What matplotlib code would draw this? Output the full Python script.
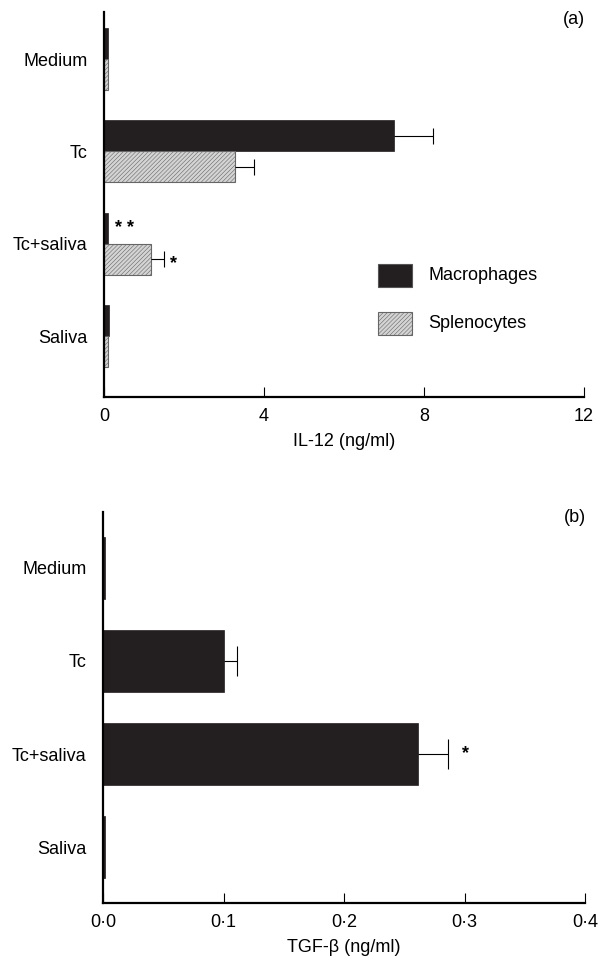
import matplotlib
matplotlib.use('Agg')
import matplotlib.pyplot as plt
import numpy as np

plt.rcParams['font.family'] = ['Liberation Sans', 'DejaVu Sans']
plt.rcParams['hatch.linewidth'] = 0.4

# ── data ──
categories = ['Medium', 'Tc', 'Tc+saliva', 'Saliva']
il12_mac = [0.1, 7.25, 0.1, 0.12]
il12_mac_err = [0, 0.97, 0, 0]
il12_spl = [0.1, 3.27, 1.17, 0.1]
il12_spl_err = [0, 0.48, 0.33, 0]
tgf = [0.002, 0.1, 0.261, 0.002]
tgf_err = [0, 0.011, 0.025, 0]
il12_ticks = [0, 4, 8, 12]
tgf_ticks = [0.0, 0.1, 0.2, 0.3, 0.4]

DARK = '#231f20'
LIGHT = '#d4d4d4'
FS = 13
W, H = 599, 966
fig = plt.figure(figsize=(W / 100, H / 100), dpi=100)
fig.patch.set_facecolor('white')


def style_axes(ax):
    for s in ('top', 'right'):
        ax.spines[s].set_visible(False)
    ax.spines['left'].set_linewidth(1.6)
    ax.spines['bottom'].set_linewidth(1.6)
    ax.tick_params(axis='y', length=0, labelsize=FS, pad=12)
    ax.tick_params(axis='x', direction='in', length=7, width=0.8,
                   labelsize=FS, pad=8)


def upper_err(ax, vals, errs, ys, cap):
    # one-sided error bar: whisker from bar end to the right, cap at the tip
    for v, e, y in zip(vals, errs, ys):
        if e > 0:
            ax.hlines(y, v, v + e, color='black', lw=0.8)
            ax.vlines(v + e, y - cap, y + cap, color='black', lw=0.8)


ypos = np.arange(len(categories))

# ── panel (a): IL-12 ──
ax1 = fig.add_axes([104 / W, 1 - 397 / H, 480 / W, 385 / H])
h = 0.335
ax1.barh(ypos - h / 2, il12_mac, height=h, color=DARK, edgecolor=DARK, lw=0.5)
ax1.barh(ypos + h / 2, il12_spl, height=h, color=LIGHT, edgecolor='#666666',
         hatch='////////', lw=0.8)
upper_err(ax1, il12_mac, il12_mac_err, ypos - h / 2, 0.085)
upper_err(ax1, il12_spl, il12_spl_err, ypos + h / 2, 0.085)
ax1.set_xlim(0, 12)
ax1.set_ylim(3.66, -0.51)
ax1.set_yticks(ypos)
ax1.set_yticklabels(categories)
ax1.set_xticks(il12_ticks)
ax1.set_xlabel('IL-12 (ng/ml)', fontsize=FS, labelpad=6)
style_axes(ax1)
ax1.text(0.52, 2 - h / 2, '* *', ha='center', va='center', fontsize=13, fontweight='bold')
ax1.text(1.75, 2 + h / 2 + 0.05, '*', ha='center', va='center', fontsize=13, fontweight='bold')
ax1.text(0.98, 0.98, '(a)', transform=ax1.transAxes, ha='center', va='center', fontsize=FS)

# legend drawn as boxes to match the figure
lx0, lx1 = 378 / W, 412 / W
fig.patches.append(plt.Rectangle((lx0, 1 - 287 / H), lx1 - lx0, 23 / H, transform=fig.transFigure,
                                 facecolor=DARK, edgecolor='#555555', lw=0.8))
fig.patches.append(plt.Rectangle((lx0, 1 - 335 / H), lx1 - lx0, 23 / H, transform=fig.transFigure,
                                 facecolor=LIGHT, edgecolor='#666666', hatch='////////', lw=0.8))
fig.text(428 / W, 1 - 275 / H, 'Macrophages', ha='left', va='center', fontsize=FS)
fig.text(428 / W, 1 - 323 / H, 'Splenocytes', ha='left', va='center', fontsize=FS)

# ── panel (b): TGF-beta ──
ax2 = fig.add_axes([103 / W, 1 - 903 / H, 482 / W, 391 / H])
hb = 0.67
ax2.barh(ypos, tgf, height=hb, color=DARK, edgecolor=DARK, lw=0.5)
upper_err(ax2, tgf, tgf_err, ypos, 0.165)
ax2.set_xlim(0, 0.4)
ax2.set_ylim(3.6, -0.6)
ax2.set_yticks(ypos)
ax2.set_yticklabels(categories)
ax2.set_xticks(tgf_ticks)
ax2.set_xticklabels([f'{t:.1f}'.replace('.', '\u00b7') for t in tgf_ticks])
ax2.set_xlabel('TGF-\u03b2 (ng/ml)', fontsize=FS, labelpad=6)
style_axes(ax2)
ax2.text(0.301, 2, '*', ha='center', va='center', fontsize=13, fontweight='bold')
ax2.text(0.98, 0.985, '(b)', transform=ax2.transAxes, ha='center', va='center', fontsize=FS)

fig.savefig('out.png', dpi=100, facecolor='white')
